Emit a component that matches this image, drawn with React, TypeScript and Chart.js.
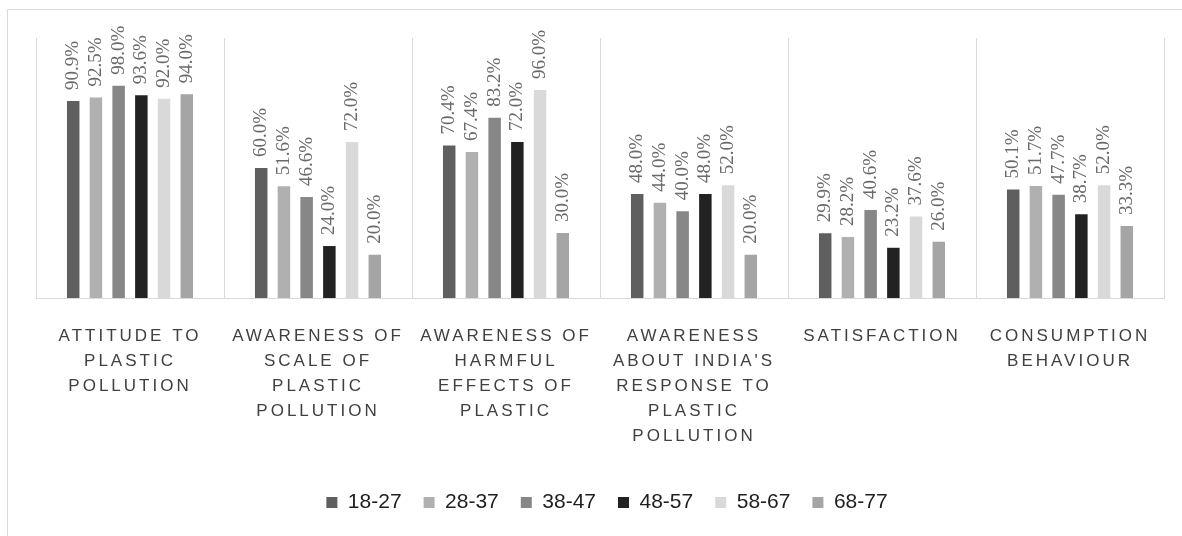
import React, { useEffect, useRef } from 'react';
import { Chart, registerables } from 'chart.js';

Chart.register(...registerables);

const categories: string[][] = [
  ['ATTITUDE TO', 'PLASTIC', 'POLLUTION'],
  ['AWARENESS OF', 'SCALE OF', 'PLASTIC', 'POLLUTION'],
  ['AWARENESS OF', 'HARMFUL', 'EFFECTS OF', 'PLASTIC'],
  ['AWARENESS', "ABOUT INDIA'S", 'RESPONSE TO', 'PLASTIC', 'POLLUTION'],
  ['SATISFACTION'],
  ['CONSUMPTION', 'BEHAVIOUR'],
];

const ageGroups = ['18-27', '28-37', '38-47', '48-57', '58-67', '68-77'];

const age18to27 = [90.9, 60.0, 70.4, 48.0, 29.9, 50.1];
const age28to37 = [92.5, 51.6, 67.4, 44.0, 28.2, 51.7];
const age38to47 = [98.0, 46.6, 83.2, 40.0, 40.6, 47.7];
const age48to57 = [93.6, 24.0, 72.0, 48.0, 23.2, 38.7];
const age58to67 = [92.0, 72.0, 96.0, 52.0, 37.6, 52.0];
const age68to77 = [94.0, 20.0, 30.0, 20.0, 26.0, 33.3];

const seriesValues = [age18to27, age28to37, age38to47, age48to57, age58to67, age68to77];
const seriesColors = ['#5f5f5f', '#b0b0b0', '#878787', '#222222', '#d9d9d9', '#a5a5a5'];

const framePlugin = {
  id: 'frame',
  beforeDraw(chart: any) {
    const ctx = chart.ctx;
    ctx.save();
    ctx.fillStyle = '#ffffff';
    ctx.fillRect(0, 0, chart.width, chart.height);
    ctx.strokeStyle = '#d9d9d9';
    ctx.lineWidth = 1;
    ctx.beginPath();
    ctx.moveTo(7.5, chart.height);
    ctx.lineTo(7.5, 9.5);
    ctx.lineTo(chart.width, 9.5);
    ctx.stroke();
    ctx.restore();
  },
};

const tweakPlugin = {
  id: 'tweaks',
  beforeDraw(chart: any) {
    const ctx = chart.ctx;
    const s: any = chart.scales.x;
    if (s && !s.__spaced) {
      const orig = s.drawLabels.bind(s);
      s.drawLabels = (ca: any) => {
        ctx.save();
        ctx.letterSpacing = '3px';
        orig(ca);
        ctx.restore();
      };
      s.__spaced = true;
    }
    const lg: any = chart.legend;
    if (lg && !lg.__shifted) {
      const origDraw = lg.draw.bind(lg);
      lg.draw = () => {
        ctx.save();
        ctx.translate(7, 3);
        origDraw();
        ctx.restore();
      };
      lg.__shifted = true;
    }
  },
};

const valueLabelPlugin = {
  id: 'valueLabels',
  afterDatasetsDraw(chart: any) {
    const ctx = chart.ctx;
    ctx.save();
    ctx.font = '19px "Liberation Serif"';
    ctx.fillStyle = '#6a6a6a';
    ctx.textAlign = 'left';
    ctx.textBaseline = 'middle';
    chart.data.datasets.forEach((ds: any, di: number) => {
      const meta = chart.getDatasetMeta(di);
      meta.data.forEach((el: any, i: number) => {
        const v = ds.data[i];
        ctx.save();
        ctx.translate(el.x, el.y - 11);
        ctx.rotate(-Math.PI / 2);
        ctx.fillText(v.toFixed(1) + '%', 0, 0);
        ctx.restore();
      });
    });
    ctx.restore();
  },
};

export default function App() {
  const ref = useRef<HTMLCanvasElement | null>(null);
  useEffect(() => {
    if (!ref.current) return;
    const chart = new Chart(ref.current, {
      type: 'bar',
      data: {
        labels: categories,
        datasets: ageGroups.map((g, i) => ({
          label: g,
          data: seriesValues[i],
          backgroundColor: seriesColors[i],
          borderWidth: 0,
          categoryPercentage: 0.725,
          barPercentage: 0.55,
        })),
      },
      options: {
        responsive: false,
        animation: false,
        devicePixelRatio: 1,
        layout: { padding: { left: 36, right: 18, top: 38, bottom: 16 } },
        plugins: {
          legend: {
            position: 'bottom',
            labels: {
              boxWidth: 11,
              boxHeight: 11,
              padding: 22,
              color: '#1e1e1e',
              font: { family: '"Liberation Sans", Arial, sans-serif', size: 21 },
            },
          },
          tooltip: { enabled: false },
        },
        scales: {
          x: {
            grid: { offset: true, color: '#d9d9d9', drawTicks: false },
            border: { color: '#d9d9d9' },
            ticks: {
              color: '#404040',
              font: { family: '"Liberation Sans", Arial, sans-serif', size: 17, lineHeight: 1.47 },
              padding: 26,
              maxRotation: 0,
              autoSkip: false,
            },
            afterFit: (s: any) => {
              s.height = s.height - 8;
            },
          },
          y: { display: false, min: 0, max: 120 },
        },
      },
      plugins: [framePlugin, tweakPlugin, valueLabelPlugin],
    } as any);
    return () => chart.destroy();
  }, []);
  return (
    <div style={{ position: 'fixed', left: 0, top: 0, width: 1182, height: 536 }}>
      <canvas ref={ref} width={1182} height={536} />
    </div>
  );
}
